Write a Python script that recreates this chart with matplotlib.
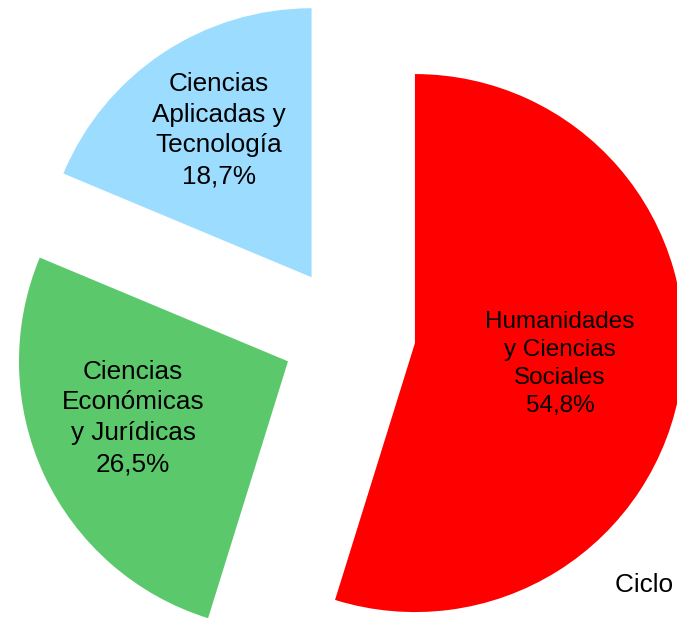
import numpy as np
import matplotlib
matplotlib.use("Agg")
import matplotlib.pyplot as plt

categories = ["Humanidades\ny Ciencias\nSociales",
              "Ciencias\nEconómicas\ny Jurídicas",
              "Ciencias\nAplicadas y\nTecnología"]
values = [54.8, 26.5, 18.7]
colors = ["#FF0000", "#5BC86B", "#9BDCFF"]
label_radius = [0.545, 0.613, 0.647]
label_dangle = [0.4, -5.0, -1.4]
label_size = [17.5, 18.8, 18.8]
side_text = "Ciclo de"

plt.rcParams['font.family'] = ['Liberation Sans', 'DejaVu Sans']

fig = plt.figure(figsize=(6.77, 6.2), dpi=100)
ax = fig.add_axes([0, 0, 1, 1])

R = 269.0
cx, cy = 348.7, 333.0
explode = 67.0 / R

wedges, _ = ax.pie(values, colors=colors, startangle=90, counterclock=False,
                   explode=[explode] * len(values), radius=1,
                   wedgeprops=dict(linewidth=0))

for w, cat, v, rl, da, fs in zip(wedges, categories, values, label_radius,
                                 label_dangle, label_size):
    mid = np.deg2rad((w.theta1 + w.theta2) / 2 + da)
    x0, y0 = w.center
    lab = cat + "\n" + f"{v:.1f}".replace(".", ",") + "%"
    ax.text(x0 + rl * np.cos(mid), y0 + rl * np.sin(mid), lab,
            ha="center", va="center", multialignment="center",
            fontsize=fs, color="black", linespacing=1.36)

ax.set_xlim((0 - cx) / R, (677 - cx) / R)
ax.set_ylim((cy - 620) / R, cy / R)
ax.set_aspect("equal")
ax.axis("off")

fig.text(615 / 677, 1 - 585 / 620, side_text, ha="left", va="center",
         fontsize=18.8, color="black")

fig.savefig("out.png", dpi=100)
